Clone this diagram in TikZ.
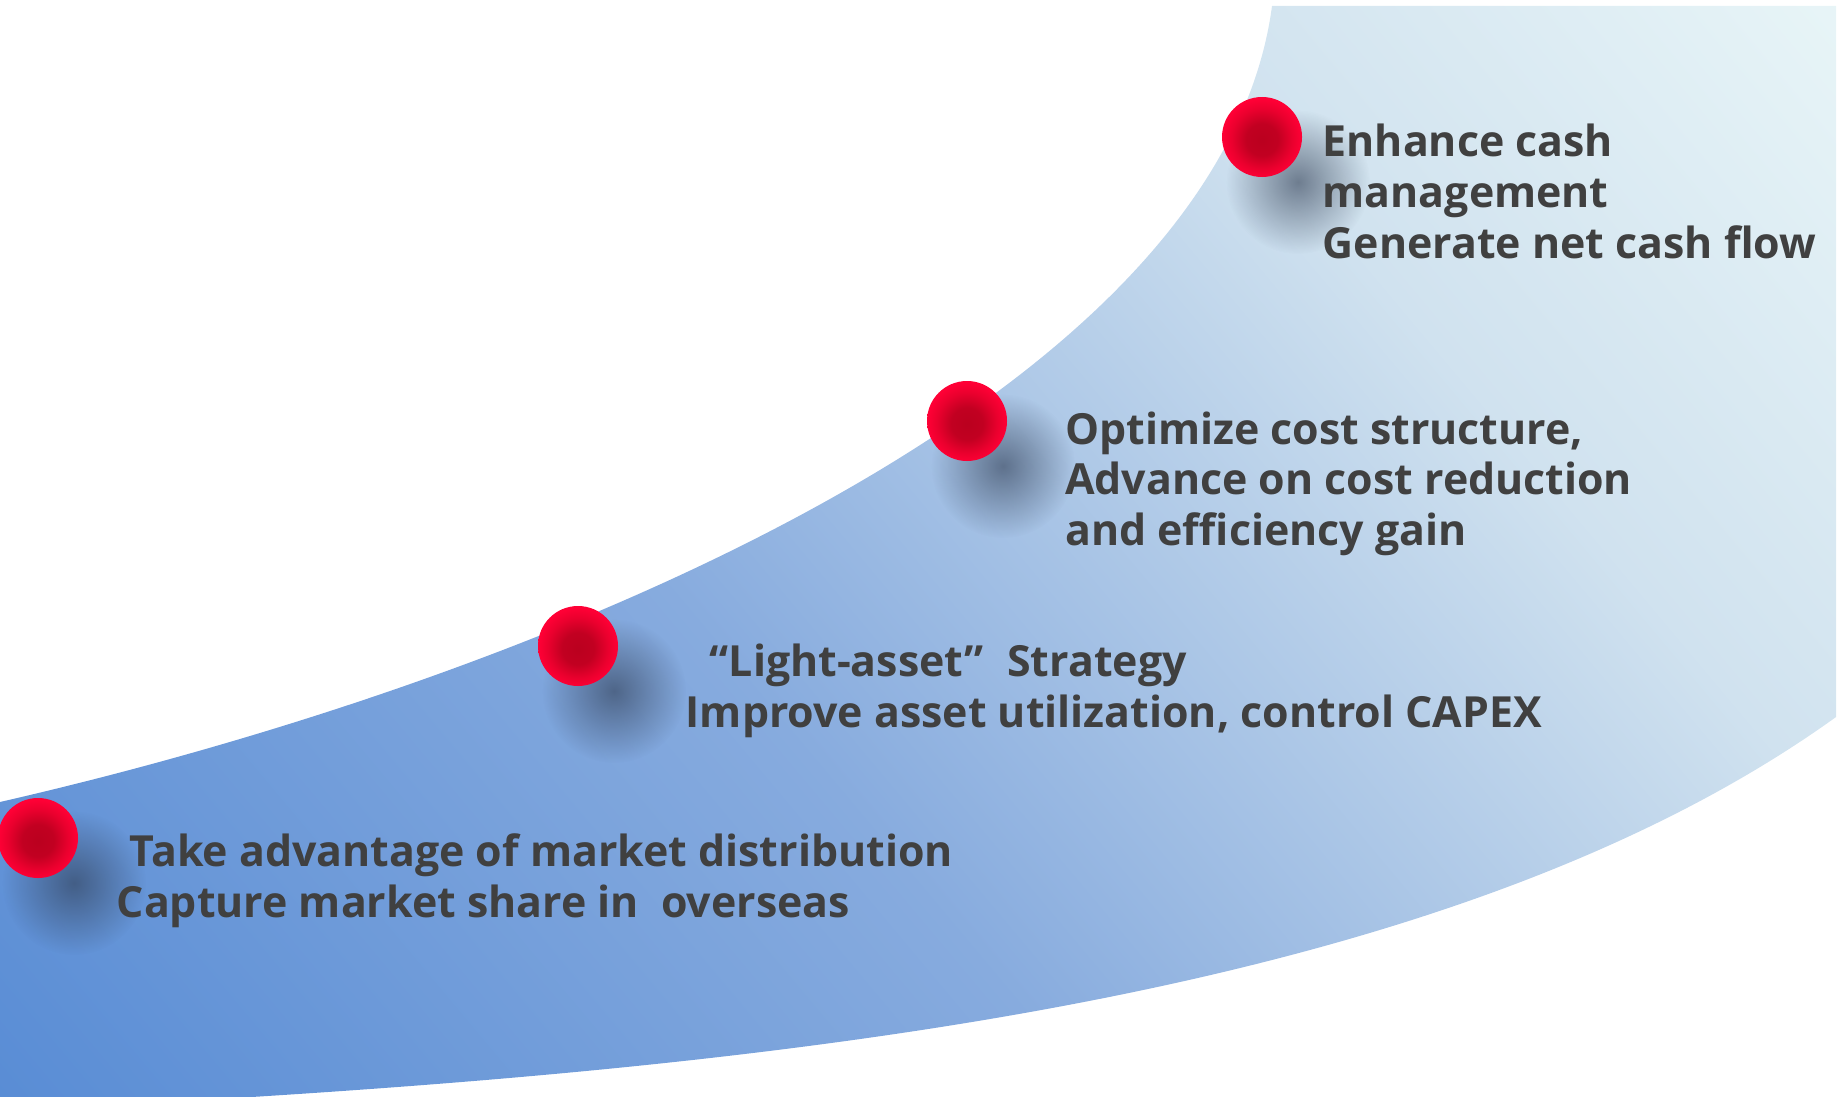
\documentclass[tikz,border=0pt]{standalone}
\usepackage{fontspec}
\setmainfont{Open Sans}
\usetikzlibrary{shadows,fadings}

\definecolor{txtgray}{RGB}{64,64,64}
\definecolor{shadowgray}{RGB}{45,58,80}

% blue band: deep blue bottom left, pale cyan top right
\pgfdeclarehorizontalshading{bandblue}{100bp}{
  rgb(0bp)=(0.345,0.549,0.835);
  rgb(25bp)=(0.345,0.549,0.835);
  rgb(45bp)=(0.529,0.671,0.871);
  rgb(62.5bp)=(0.816,0.886,0.937);
  rgb(75bp)=(0.910,0.961,0.969);
  rgb(100bp)=(0.910,0.961,0.969)}

% red dot, darker in the middle
\pgfdeclareradialshading{reddot}{\pgfpoint{0bp}{-2bp}}{
  rgb(0bp)=(0.73,0,0.12);
  rgb(10bp)=(0.76,0,0.13);
  rgb(19bp)=(0.92,0,0.18);
  rgb(25bp)=(1,0,0.21);
  rgb(50bp)=(1,0,0.21)}

\tikzfading[name=softshadow, inner color=transparent!40, outer color=transparent!100]

\begin{document}
\begin{tikzpicture}[
    dot/.style={circle, minimum size=0.8cm, inner sep=0pt, shading=reddot,
        general shadow={fill=shadowgray, shadow scale=1.8, shadow xshift=0.2cm, shadow yshift=-0.25cm, path fading=softshadow}},
    note/.style={anchor=base west, align=left, inner sep=0pt, text=txtgray, font=\fontsize{12.2}{14.4}\selectfont\bfseries},
]
\useasboundingbox (0,0) rectangle (18.43,10.96);

% Band
\begin{scope}
\clip (0,2.94) .. controls (5.5,4.2) and (12.2,7.0) .. (12.72,10.90) -- (18.36,10.90) -- (18.36,3.79)
    .. controls (14.2,0.8) and (7,0.2) .. (0,-0.15) -- cycle;
\shade[shading=bandblue, transform canvas={rotate=40}] (-0.2,-12) rectangle (21.2,8.5);
\end{scope}

% Milestones
\node[dot] (b1) at (0.38,2.58) {};
\node[dot] (b2) at (5.78,4.50) {};
\node[dot] (b3) at (9.67,6.75) {};
\node[dot] (b4) at (12.62,9.59) {};

% Labels (anchored on the last line)
\node[note] (market) at (1.16,1.79) {\hspace*{0.13cm}Take advantage of market distribution\\Capture market share in\ \ overseas};
\node[note] (asset) at (6.85,3.69) {\hspace*{0.24cm}“Light-asset”\hspace{0.24cm}Strategy\\Improve asset utilization, control CAPEX};
\node[note] (cost) at (10.645,5.505) {Optimize cost structure,\\Advance on cost reduction\\and efficiency gain};
\node[note] (cash) at (13.22,8.38) {Enhance cash\\management\\Generate net cash flow};
\end{tikzpicture}
\end{document}
